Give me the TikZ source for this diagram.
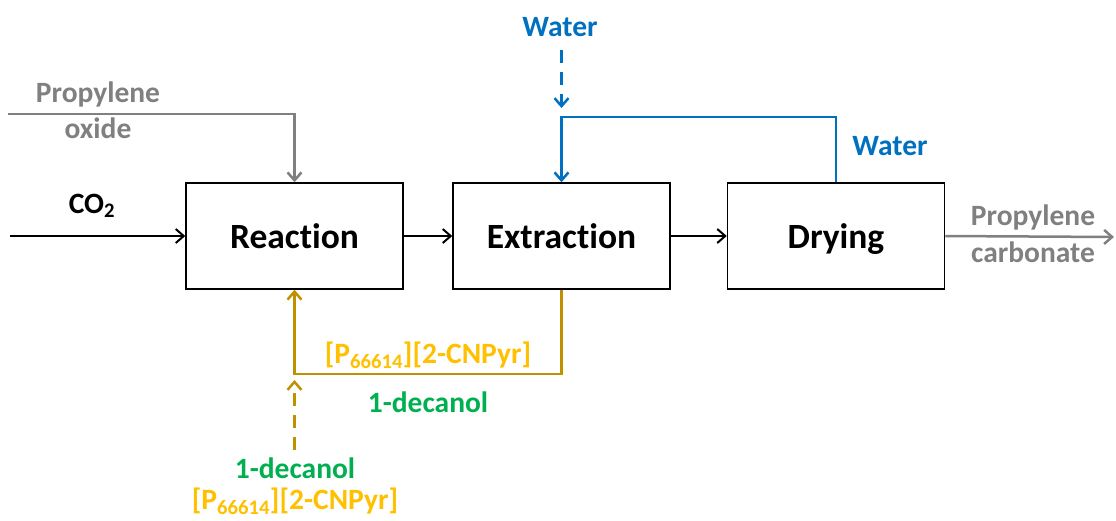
\documentclass[tikz,border=0pt]{standalone}
\usepackage{fontspec}
\setmainfont[Ligatures={NoCommon,NoContextual},Contextuals=NoAlternate]{Carlito}
\usetikzlibrary{calc,arrows.meta}
\definecolor{pgray}{RGB}{128,128,128}
\definecolor{wblue}{RGB}{0,112,192}
\definecolor{ildark}{RGB}{191,144,0}
\definecolor{illight}{RGB}{255,192,0}
\definecolor{dgreen}{RGB}{0,176,80}
\newcommand{\ilname}{[P\textsubscript{66614}][2-CNPyr]}
\newcommand{\lbl}{\fontsize{29.5}{34}\selectfont\bfseries}

\begin{document}
\begin{tikzpicture}[x=1pt,y=-1pt,
	>={Straight Barb[length=8pt,width=14pt]},
	unit/.style={draw,line width=1.5pt,minimum width=217pt,minimum height=106pt,
		text height=30pt,text depth=6pt,
		font=\fontsize{35.5}{40}\selectfont\bfseries},
	txt/.style={anchor=base,inner sep=0pt,font=\lbl},
	blk/.style={line width=2pt,->},
	gry/.style={pgray,line width=2.5pt},
	blu/.style={wblue,line width=2.5pt},
	gld/.style={ildark,line width=2.5pt}]
	\useasboundingbox (0,0) rectangle (1116,520);
	% process units
	\node[unit] (reaction) at (294.5,236) {Reac\kern0pt tion};
	\node[unit] (extraction) at (561.5,236) {Extrac\kern0pt tion};
	\node[unit] (drying) at (836,236) {Drying};
	% feeds and loops
	\coordinate (co2in) at (10,236);
	\coordinate (poin) at (8,114);
	\coordinate (pcout) at (1114,237);
	\coordinate (wloop) at (561.5,117);
	\coordinate (win) at (561.5,50);
	\coordinate (illoop) at (294.5,374);
	\coordinate (ilin) at (294.5,450);
	\draw[blk] (co2in) -- (reaction.west);
	\draw[blk] (reaction.east) -- (extraction.west);
	\draw[blk] (extraction.east) -- (drying.west);
	\draw[gry,->] (poin) -| (reaction.north);
	\draw[gry,->] (drying.east) -- (pcout);
	\draw[blu,->] (drying.north) |- (wloop) -- (extraction.north);
	\draw[blu,->,dash pattern=on 13pt off 9pt,shorten >=9pt] (win) -- (wloop);
	\draw[gld,->] (extraction.south) |- (illoop) -- (reaction.south);
	\draw[gld,->,dash pattern=on 13pt off 9pt,shorten >=6pt] (ilin) -- (illoop);
	% labels
	\node[txt] (L1) at (92,213) {CO\textsubscript{2}};
	\node[txt,pgray] (L2) at (98,102) {Propylene};
	\node[txt,pgray] (L3) at (98,138) {oxide};
	\node[txt,pgray] (L4) at (1033,225) {Propylene};
	\node[txt,pgray] (L5) at (1033,262) {carbonate};
	\node[txt,wblue] (L6) at (560,36) {Water};
	\node[txt,wblue] (L7) at (890,155) {Water};
	\node[txt,illight] (L8) at (428,363) {\ilname};
	\node[txt,dgreen] (L9) at (428,412) {1-decanol};
	\node[txt,dgreen] (L10) at (295,478) {1-decanol};
	\node[txt,illight] (L11) at (295,509) {\ilname};
\end{tikzpicture}
\end{document}
